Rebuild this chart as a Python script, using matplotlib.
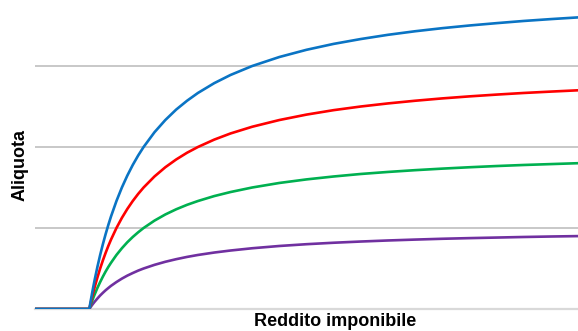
import matplotlib.pyplot as plt

plt.rcParams['font.family'] = ['Liberation Sans', 'DejaVu Sans']

# income (arbitrary units) and average tax rate
reddito = [0, 10, 10.25, 10.5, 10.75, 11, 11.5, 12, 12.5, 13, 13.5, 14, 15, 16,
           17, 18, 19, 20, 22, 24, 26, 28, 30, 33, 36, 40, 45, 50, 55, 60, 65,
           70, 75, 80, 85, 90, 95, 100]
blu = [0, 0, 0.098, 0.190, 0.279, 0.364, 0.522, 0.667, 0.8, 0.923, 1.037, 1.143,
       1.333, 1.5, 1.647, 1.778, 1.895, 2.0, 2.182, 2.333, 2.462, 2.571, 2.667,
       2.788, 2.889, 3.0, 3.111, 3.2, 3.273, 3.333, 3.385, 3.429, 3.467, 3.5,
       3.529, 3.556, 3.579, 3.6]
rosso = [0, 0, 0.073, 0.143, 0.209, 0.273, 0.391, 0.5, 0.6, 0.692, 0.778, 0.857,
         1.0, 1.125, 1.235, 1.333, 1.421, 1.5, 1.636, 1.75, 1.846, 1.929, 2.0,
         2.091, 2.167, 2.25, 2.333, 2.4, 2.455, 2.5, 2.538, 2.571, 2.6, 2.625,
         2.647, 2.667, 2.684, 2.7]
verde = [0, 0, 0.049, 0.095, 0.140, 0.182, 0.261, 0.333, 0.4, 0.462, 0.519,
         0.571, 0.667, 0.75, 0.824, 0.889, 0.947, 1.0, 1.091, 1.167, 1.231,
         1.286, 1.333, 1.394, 1.444, 1.5, 1.556, 1.6, 1.636, 1.667, 1.692,
         1.714, 1.733, 1.75, 1.765, 1.778, 1.789, 1.8]
viola = [0, 0, 0.024, 0.048, 0.070, 0.091, 0.130, 0.167, 0.2, 0.231, 0.259,
         0.286, 0.333, 0.375, 0.412, 0.444, 0.474, 0.5, 0.545, 0.583, 0.615,
         0.643, 0.667, 0.697, 0.722, 0.75, 0.778, 0.8, 0.818, 0.833, 0.846,
         0.857, 0.867, 0.875, 0.882, 0.889, 0.895, 0.9]
griglia = [1, 2, 3]

fig = plt.figure(figsize=(5.78, 3.31), dpi=100)
ax = fig.add_axes([35 / 578, 22 / 331, 1 - 35 / 578, 1 - 22 / 331])

for y in griglia:
    ax.axhline(y, color='#bfbfbf', linewidth=1.2, zorder=1)

stile = dict(linewidth=1.9, zorder=3, solid_joinstyle='round', solid_capstyle='round')
ax.plot(reddito, viola, color='#7030A0', **stile)
ax.plot(reddito, verde, color='#00B050', **stile)
ax.plot(reddito, rosso, color='#FF0000', **stile)
ax.plot(reddito, blu, color='#0a74c4', **stile)

ax.set_xlim(0, 100)
ax.set_ylim(0, 309 / 81)

for s in ['top', 'right', 'left']:
    ax.spines[s].set_visible(False)
ax.spines['bottom'].set_color('#d9d9d9')
ax.spines['bottom'].set_linewidth(1.6)
ax.spines['bottom'].set_zorder(0)
ax.set_xticks([])
ax.set_yticks([])

ax.set_xlabel('Reddito imponibile', fontsize=13, fontweight='bold')
ax.set_ylabel('Aliquota', fontsize=13, fontweight='bold')
# label centres (x≈335 px, y≈165 px)
ax.xaxis.set_label_coords((335 - 35) / 543, -13 / 309, transform=ax.transAxes)
ax.yaxis.set_label_coords(-15 / 543, (309 - 165) / 309, transform=ax.transAxes)
ax.xaxis.label.set_va('center')
ax.yaxis.label.set_va('center')

fig.savefig('out.png', dpi=100)
